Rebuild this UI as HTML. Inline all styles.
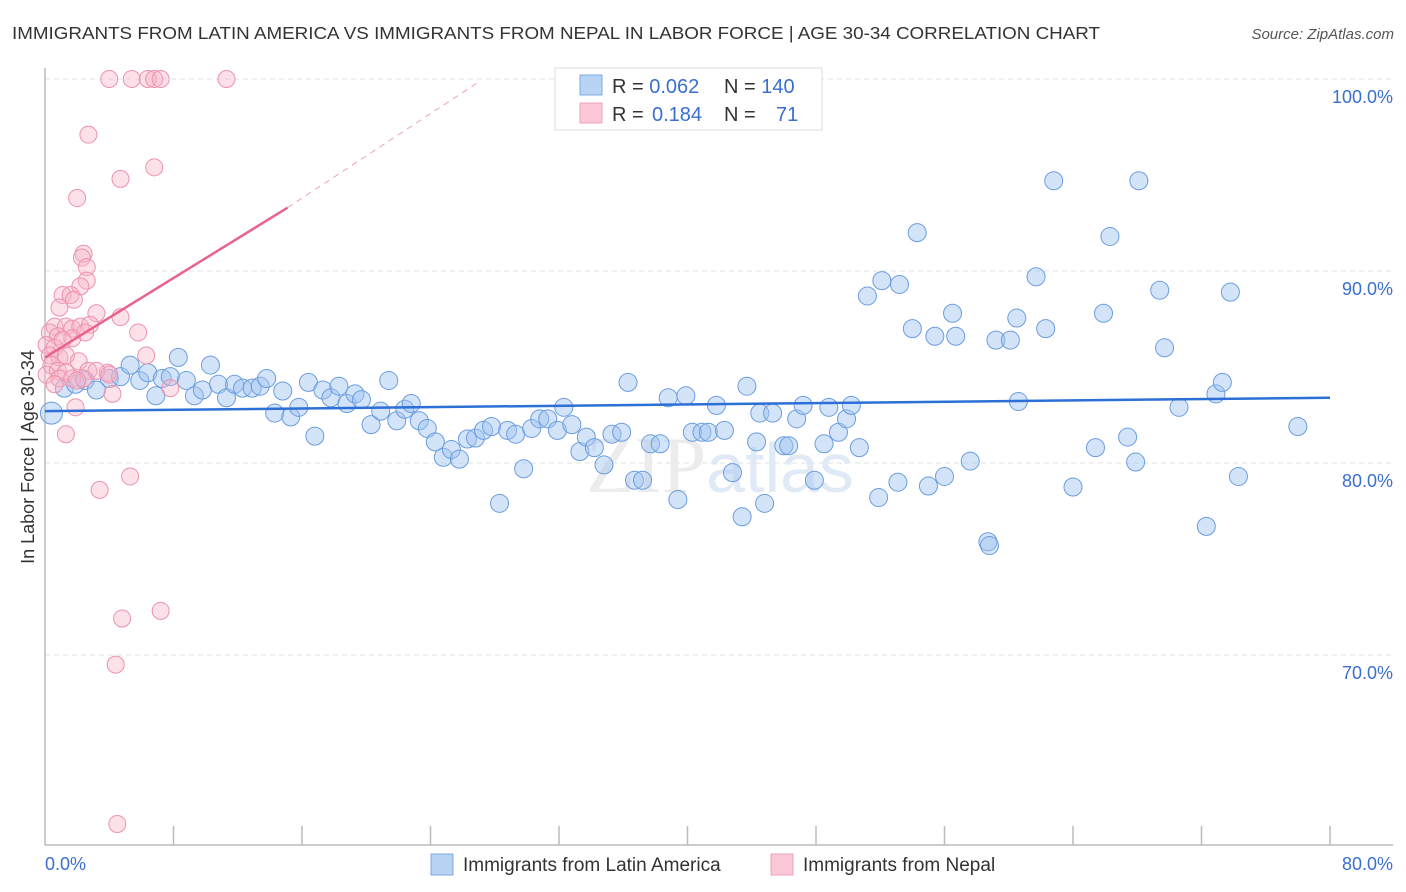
<!DOCTYPE html>
<html><head><meta charset="utf-8"><style>
body{margin:0;background:#fff;font-family:"Liberation Sans",sans-serif;}
svg{display:block}
</style></head><body>
<svg id="chart" width="1406" height="892" viewBox="0 0 1406 892" xmlns="http://www.w3.org/2000/svg">
<text x="12" y="39" font-size="17.5" fill="#333" textLength="1088" lengthAdjust="spacingAndGlyphs">IMMIGRANTS FROM LATIN AMERICA VS IMMIGRANTS FROM NEPAL IN LABOR FORCE | AGE 30-34 CORRELATION CHART</text>
<text x="1394" y="39" font-size="15" fill="#555" font-style="italic" text-anchor="end">Source: ZipAtlas.com</text>
<g id="grid"></g>
<text x="720" y="492" font-size="80" fill="#ececec" text-anchor="middle" font-family="Liberation Serif, serif">ZIP<tspan fill="#e0eaf6" font-family="Liberation Sans, sans-serif" font-size="70">atlas</tspan></text>
<g id="axes"></g>
<g id="blue"></g>
<g id="pink"></g>
<g id="trends"></g>
<text transform="translate(34,457) rotate(-90)" font-size="18" fill="#333" text-anchor="middle">In Labor Force | Age 30-34</text>
<g>
<rect x="555" y="68" width="267" height="62" fill="#fff" stroke="#ddd"/>
<rect x="580" y="75" width="22" height="20" fill="#b8d4f5" stroke="#7fa9e0"/>
<rect x="580" y="103" width="22" height="20" fill="#fbc8d7" stroke="#eea0b8"/>
<text x="612" y="93" font-size="20" fill="#333">R = <tspan fill="#3a6fd0">0.062</tspan></text>
<text x="724" y="93" font-size="20" fill="#333">N = <tspan fill="#3a6fd0">140</tspan></text>
<text x="612" y="121" font-size="20" fill="#333">R = <tspan fill="#3a6fd0" x="652">0.184</tspan></text>
<text x="724" y="121" font-size="20" fill="#333">N = <tspan fill="#3a6fd0" x="776">71</tspan></text>
</g>
<g>
<rect x="431" y="854" width="22" height="21" fill="#b8d4f5" stroke="#7fa9e0"/>
<text x="463" y="871" font-size="19" fill="#333">Immigrants from Latin America</text>
<rect x="771" y="854" width="22" height="21" fill="#fbc8d7" stroke="#eea0b8"/>
<text x="803" y="871" font-size="19" fill="#333">Immigrants from Nepal</text>
</g>
</svg>
<script>
const blueX=[0.4,1.2,1.9,2.5,3.2,4.0,4.7,5.3,5.9,6.4,6.9,7.3,7.8,8.3,8.8,9.3,9.8,10.3,10.8,11.3,11.8,12.3,12.9,13.4,13.8,14.3,14.8,15.3,15.8,16.4,16.8,17.3,17.8,18.3,18.8,19.3,19.7,20.3,20.9,21.4,21.9,22.4,22.8,23.3,23.8,24.3,24.8,25.3,25.8,26.3,26.8,27.3,27.8,28.3,28.8,29.3,29.8,30.3,30.8,31.3,31.9,32.3,32.8,33.3,33.7,34.2,34.8,35.3,35.9,36.3,36.7,37.2,37.7,38.3,38.8,39.4,39.9,40.3,40.9,41.3,41.8,42.3,42.8,43.4,43.7,44.3,44.5,44.8,45.3,46.0,46.3,46.8,47.2,47.9,48.5,48.8,49.4,49.9,50.2,50.7,51.2,51.9,52.1,53.2,53.1,54.0,54.3,55.0,55.4,56.0,56.5,56.7,57.6,58.7,58.8,59.2,60.1,60.5,60.6,61.7,62.3,62.8,64.0,65.4,65.9,66.3,67.4,67.9,68.1,69.4,69.7,70.6,72.3,72.9,73.3,73.8,74.3,78.0];
const blueY=[82.6,83.9,84.1,84.3,83.8,84.4,84.5,85.1,84.3,84.7,83.5,84.4,84.5,85.5,84.3,83.5,83.8,85.1,84.1,83.4,84.1,83.9,83.9,84.0,84.4,82.6,83.75,82.4,82.9,84.2,81.4,83.8,83.4,84.0,83.1,83.6,83.3,82.0,82.7,84.3,82.2,82.8,83.1,82.2,81.8,81.1,80.3,80.7,80.2,81.25,81.3,81.7,81.9,77.9,81.7,81.5,79.7,81.8,82.3,82.3,81.7,82.9,82.0,80.6,81.35,80.8,79.9,81.5,81.6,84.2,79.1,79.1,81.0,81.0,83.4,78.1,83.5,81.6,81.6,81.6,83.0,81.7,79.5,77.2,84.0,81.1,82.6,77.9,82.6,80.9,80.9,82.3,83.0,79.1,81.0,82.9,81.6,82.3,83.0,80.8,88.7,78.2,89.5,89.3,79.0,87.0,92.0,78.8,86.6,79.3,87.8,86.6,80.1,75.9,75.7,86.4,86.4,87.55,83.2,89.7,87.0,94.7,78.75,80.8,87.8,91.8,81.35,80.05,94.7,89.0,86.0,82.9,76.7,83.6,84.2,88.9,79.3,81.9];
const pinkX=[4.0,5.4,6.4,6.8,7.2,11.3,2.7,4.7,6.8,2.0,2.4,2.3,2.6,2.6,2.2,1.1,1.6,1.8,0.9,3.2,4.7,0.6,1.3,1.7,2.2,2.8,5.8,0.3,0.8,1.7,2.5,0.1,0.6,1.1,0.3,0.9,1.3,2.1,6.3,0.4,0.8,1.3,2.7,3.9,0.1,0.9,1.7,2.4,3.2,4.0,0.6,2.0,4.2,7.8,1.9,1.3,3.4,5.3,4.8,7.2,4.4,4.5];
const pinkY=[100,100,100,100,100,100,97.1,94.8,95.4,93.8,90.9,90.7,90.2,89.5,89.2,88.75,88.75,88.5,88.1,87.8,87.6,87.1,87.1,87.0,87.1,87.2,86.8,86.8,86.6,86.5,86.8,86.15,86.0,86.4,85.6,85.5,85.6,85.3,85.6,85.1,84.8,84.7,84.8,84.7,84.6,84.4,84.4,84.4,84.8,84.6,84.1,84.3,83.6,83.9,82.9,81.5,78.6,79.3,71.9,72.3,69.5,61.2];
const blueTrend=[82.7,83.4];
const pinkTrend=[85.5,93.3,99.9];
const pinkTrendX=[0,15.1,27.1];
const yTicks=[100,90,80,70];
const xTickLabels=["0.0%","80.0%"];

const NS="http://www.w3.org/2000/svg";
const X0=45,X1=1330,Y100=79,PX=19.2;
function sx(v){return X0+v/80*(X1-X0);}
function sy(v){return Y100+(100-v)*PX;}
function mk(tag,attrs,parent){const e=document.createElementNS(NS,tag);for(const k in attrs)e.setAttribute(k,attrs[k]);parent.appendChild(e);return e;}

const grid=document.getElementById('grid');
yTicks.forEach(t=>{
  const l=mk('line',{x1:X0,x2:1393,y1:sy(t),y2:sy(t),stroke:'#e2e2e2','stroke-dasharray':'5,4'},grid);
  
  
  const tx=mk('text',{x:1393,y:sy(t)+24,'font-size':18,fill:'#3a6fd0','text-anchor':'end'},grid);
  tx.textContent=t.toFixed(1)+'%';
  
  
});
const axes=document.getElementById('axes');
const ya=mk('line',{x1:X0,x2:X0,y1:68,y2:845,stroke:'#bbb','stroke-width':1.5},axes);


const xa=mk('line',{x1:X0,x2:1393,y1:845,y2:845,stroke:'#bbb','stroke-width':1.5},axes);


for(let i=1;i<=10;i++){
  const t=mk('line',{x1:sx(i*8),x2:sx(i*8),y1:826,y2:845,stroke:'#bbb','stroke-width':1.5},axes);
  
  
}
const xl0=mk('text',{x:45,y:870,'font-size':18,fill:'#3a6fd0'},axes);
xl0.textContent=xTickLabels[0];


const xl1=mk('text',{x:1393,y:870,'font-size':18,fill:'#3a6fd0','text-anchor':'end'},axes);
xl1.textContent=xTickLabels[1];



const bg=document.getElementById('blue');
blueX.forEach((v,i)=>{
  const c=mk('circle',{cx:sx(v),cy:sy(blueY[i]),r:i===0?11:9,fill:'rgba(160,196,240,0.45)',stroke:'#6a9de0','stroke-width':1},bg);
  
  
});
const pg=document.getElementById('pink');
pinkX.forEach((v,i)=>{
  const c=mk('circle',{cx:sx(v),cy:sy(pinkY[i]),r:8.5,fill:'rgba(248,180,200,0.4)',stroke:'#ec92ae','stroke-width':1},pg);
  
  
});
const tg=document.getElementById('trends');
const bl=mk('line',{x1:sx(0),y1:sy(blueTrend[0]),x2:sx(80),y2:sy(blueTrend[1]),stroke:'#2c6fd6','stroke-width':2.5},tg);


const pl=mk('line',{x1:sx(pinkTrendX[0]),y1:sy(pinkTrend[0]),x2:sx(pinkTrendX[1]),y2:sy(pinkTrend[1]),stroke:'#e8648e','stroke-width':2.5},tg);


const pd=mk('line',{x1:sx(pinkTrendX[1]),y1:sy(pinkTrend[1]),x2:sx(pinkTrendX[2]),y2:sy(pinkTrend[2]),stroke:'#f0a0b8','stroke-width':1,'stroke-dasharray':'6,5'},tg);


</script>
</body></html>
